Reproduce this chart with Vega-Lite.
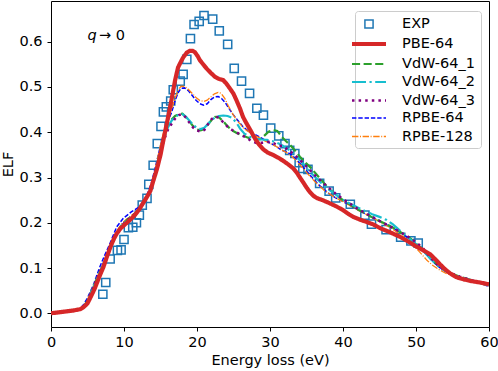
{
  "$schema": "https://vega.github.io/schema/vega-lite/v6.json",
  "width": 438,
  "height": 326,
  "autosize": {"type": "none"},
  "padding": {"left": 51, "top": 1, "right": 9, "bottom": 44},
  "background": "white",
  "datasets": {
    "exp": [
      {"series":"EXP","E":7.1,"ELF":0.042},{"series":"EXP","E":7.5,"ELF":0.068},{"series":"EXP","E":8.1,"ELF":0.12},
      {"series":"EXP","E":9.1,"ELF":0.139},{"series":"EXP","E":9.6,"ELF":0.14},{"series":"EXP","E":10.0,"ELF":0.163},
      {"series":"EXP","E":10.6,"ELF":0.189},{"series":"EXP","E":11.2,"ELF":0.19},{"series":"EXP","E":11.7,"ELF":0.2},
      {"series":"EXP","E":12.1,"ELF":0.217},{"series":"EXP","E":12.5,"ELF":0.239},{"series":"EXP","E":13.15,"ELF":0.254},
      {"series":"EXP","E":13.4,"ELF":0.285},{"series":"EXP","E":14.0,"ELF":0.327},{"series":"EXP","E":14.56,"ELF":0.375},
      {"series":"EXP","E":15.07,"ELF":0.413},{"series":"EXP","E":15.4,"ELF":0.445},{"series":"EXP","E":15.8,"ELF":0.456},
      {"series":"EXP","E":16.4,"ELF":0.469},{"series":"EXP","E":16.75,"ELF":0.494},{"series":"EXP","E":17.7,"ELF":0.513},
      {"series":"EXP","E":18.1,"ELF":0.528},{"series":"EXP","E":18.6,"ELF":0.561},{"series":"EXP","E":19.1,"ELF":0.607},
      {"series":"EXP","E":19.6,"ELF":0.638},{"series":"EXP","E":20.3,"ELF":0.645},{"series":"EXP","E":20.96,"ELF":0.658},
      {"series":"EXP","E":22.15,"ELF":0.65},{"series":"EXP","E":23.05,"ELF":0.624},{"series":"EXP","E":24.2,"ELF":0.594},
      {"series":"EXP","E":25.1,"ELF":0.541},{"series":"EXP","E":26.1,"ELF":0.513},{"series":"EXP","E":27.2,"ELF":0.486},
      {"series":"EXP","E":28.2,"ELF":0.453},{"series":"EXP","E":29.1,"ELF":0.438},{"series":"EXP","E":30.1,"ELF":0.409},
      {"series":"EXP","E":31.2,"ELF":0.392},{"series":"EXP","E":32.05,"ELF":0.375},{"series":"EXP","E":32.7,"ELF":0.36},
      {"series":"EXP","E":33.4,"ELF":0.353},{"series":"EXP","E":34.0,"ELF":0.333},{"series":"EXP","E":34.5,"ELF":0.32},
      {"series":"EXP","E":35.2,"ELF":0.318},{"series":"EXP","E":36.8,"ELF":0.287},{"series":"EXP","E":38.1,"ELF":0.27},
      {"series":"EXP","E":39.0,"ELF":0.255},{"series":"EXP","E":41.0,"ELF":0.241},{"series":"EXP","E":43.0,"ELF":0.217},
      {"series":"EXP","E":43.9,"ELF":0.197},{"series":"EXP","E":45.9,"ELF":0.185},{"series":"EXP","E":47.9,"ELF":0.168},
      {"series":"EXP","E":49.3,"ELF":0.16},{"series":"EXP","E":50.3,"ELF":0.155}
    ],
    "note": [
      {"E": 5.0, "ELF": 0.613, "part": "q", "style": "italic"},
      {"E": 5.0, "ELF": 0.613, "part": "→ 0", "style": "normal"}
    ],
    "curves": [
      {"series":"PBE-64","E":0,"ELF":0.0},{"series":"PBE-64","E":1,"ELF":0.002},{"series":"PBE-64","E":2,"ELF":0.004},
      {"series":"PBE-64","E":3,"ELF":0.006},{"series":"PBE-64","E":4,"ELF":0.009},{"series":"PBE-64","E":4.5,"ELF":0.014},
      {"series":"PBE-64","E":5.0,"ELF":0.022},{"series":"PBE-64","E":5.5,"ELF":0.038},{"series":"PBE-64","E":6.0,"ELF":0.055},
      {"series":"PBE-64","E":6.6,"ELF":0.08},{"series":"PBE-64","E":7.2,"ELF":0.103},{"series":"PBE-64","E":7.7,"ELF":0.127},
      {"series":"PBE-64","E":8.2,"ELF":0.149},{"series":"PBE-64","E":8.6,"ELF":0.164},{"series":"PBE-64","E":9.0,"ELF":0.176},
      {"series":"PBE-64","E":9.5,"ELF":0.187},{"series":"PBE-64","E":10.1,"ELF":0.196},{"series":"PBE-64","E":10.8,"ELF":0.206},
      {"series":"PBE-64","E":11.5,"ELF":0.217},{"series":"PBE-64","E":12.1,"ELF":0.23},{"series":"PBE-64","E":12.6,"ELF":0.243},
      {"series":"PBE-64","E":13.1,"ELF":0.256},{"series":"PBE-64","E":13.6,"ELF":0.27},{"series":"PBE-64","E":14.0,"ELF":0.292},
      {"series":"PBE-64","E":14.5,"ELF":0.318},{"series":"PBE-64","E":15.0,"ELF":0.35},{"series":"PBE-64","E":15.4,"ELF":0.383},
      {"series":"PBE-64","E":16.0,"ELF":0.43},{"series":"PBE-64","E":16.5,"ELF":0.471},{"series":"PBE-64","E":17.0,"ELF":0.515},
      {"series":"PBE-64","E":17.4,"ELF":0.543},{"series":"PBE-64","E":17.8,"ELF":0.556},{"series":"PBE-64","E":18.1,"ELF":0.565},
      {"series":"PBE-64","E":18.6,"ELF":0.576},{"series":"PBE-64","E":19.0,"ELF":0.58},{"series":"PBE-64","E":19.4,"ELF":0.58},
      {"series":"PBE-64","E":19.7,"ELF":0.577},{"series":"PBE-64","E":20.1,"ELF":0.568},{"series":"PBE-64","E":20.4,"ELF":0.559},
      {"series":"PBE-64","E":20.9,"ELF":0.549},{"series":"PBE-64","E":21.3,"ELF":0.541},{"series":"PBE-64","E":21.9,"ELF":0.531},
      {"series":"PBE-64","E":22.5,"ELF":0.522},{"series":"PBE-64","E":23.0,"ELF":0.518},{"series":"PBE-64","E":23.6,"ELF":0.515},
      {"series":"PBE-64","E":24.0,"ELF":0.508},{"series":"PBE-64","E":24.5,"ELF":0.497},{"series":"PBE-64","E":25.0,"ELF":0.485},
      {"series":"PBE-64","E":25.4,"ELF":0.471},{"series":"PBE-64","E":25.9,"ELF":0.452},{"series":"PBE-64","E":26.3,"ELF":0.434},
      {"series":"PBE-64","E":26.8,"ELF":0.419},{"series":"PBE-64","E":27.3,"ELF":0.405},{"series":"PBE-64","E":27.8,"ELF":0.39},
      {"series":"PBE-64","E":28.4,"ELF":0.375},{"series":"PBE-64","E":29.1,"ELF":0.362},{"series":"PBE-64","E":29.7,"ELF":0.355},
      {"series":"PBE-64","E":30.4,"ELF":0.35},{"series":"PBE-64","E":31.1,"ELF":0.344},{"series":"PBE-64","E":31.8,"ELF":0.337},
      {"series":"PBE-64","E":32.5,"ELF":0.329},{"series":"PBE-64","E":33.2,"ELF":0.32},{"series":"PBE-64","E":33.7,"ELF":0.31},
      {"series":"PBE-64","E":34.1,"ELF":0.3},{"series":"PBE-64","E":34.6,"ELF":0.288},{"series":"PBE-64","E":35.0,"ELF":0.278},
      {"series":"PBE-64","E":35.5,"ELF":0.267},{"series":"PBE-64","E":36.0,"ELF":0.259},{"series":"PBE-64","E":36.5,"ELF":0.254},
      {"series":"PBE-64","E":37.2,"ELF":0.25},{"series":"PBE-64","E":38.2,"ELF":0.243},{"series":"PBE-64","E":39.1,"ELF":0.236},
      {"series":"PBE-64","E":40.0,"ELF":0.228},{"series":"PBE-64","E":40.7,"ELF":0.22},{"series":"PBE-64","E":41.4,"ELF":0.213},
      {"series":"PBE-64","E":42.3,"ELF":0.207},{"series":"PBE-64","E":43.2,"ELF":0.202},{"series":"PBE-64","E":44.2,"ELF":0.196},
      {"series":"PBE-64","E":45.1,"ELF":0.188},{"series":"PBE-64","E":46.3,"ELF":0.18},{"series":"PBE-64","E":47.8,"ELF":0.169},
      {"series":"PBE-64","E":49.0,"ELF":0.158},{"series":"PBE-64","E":50.1,"ELF":0.147},{"series":"PBE-64","E":50.9,"ELF":0.14},
      {"series":"PBE-64","E":51.9,"ELF":0.131},{"series":"PBE-64","E":52.6,"ELF":0.12},{"series":"PBE-64","E":53.3,"ELF":0.108},
      {"series":"PBE-64","E":54.0,"ELF":0.097},{"series":"PBE-64","E":54.7,"ELF":0.088},{"series":"PBE-64","E":55.5,"ELF":0.08},
      {"series":"PBE-64","E":56.5,"ELF":0.075},{"series":"PBE-64","E":57.6,"ELF":0.071},{"series":"PBE-64","E":58.8,"ELF":0.068},
      {"series":"PBE-64","E":60.0,"ELF":0.064},

      {"series":"RPBE-64","E":0,"ELF":0.0},{"series":"RPBE-64","E":2,"ELF":0.004},{"series":"RPBE-64","E":4,"ELF":0.01},
      {"series":"RPBE-64","E":4.5,"ELF":0.02},{"series":"RPBE-64","E":5.0,"ELF":0.034},{"series":"RPBE-64","E":5.8,"ELF":0.062},
      {"series":"RPBE-64","E":6.7,"ELF":0.103},{"series":"RPBE-64","E":7.4,"ELF":0.13},{"series":"RPBE-64","E":8.1,"ELF":0.155},
      {"series":"RPBE-64","E":8.6,"ELF":0.175},{"series":"RPBE-64","E":9.0,"ELF":0.191},{"series":"RPBE-64","E":9.9,"ELF":0.21},
      {"series":"RPBE-64","E":11.0,"ELF":0.224},{"series":"RPBE-64","E":12.0,"ELF":0.234},{"series":"RPBE-64","E":12.6,"ELF":0.246},
      {"series":"RPBE-64","E":13.2,"ELF":0.263},{"series":"RPBE-64","E":13.8,"ELF":0.29},{"series":"RPBE-64","E":14.4,"ELF":0.33},
      {"series":"RPBE-64","E":15.0,"ELF":0.37},{"series":"RPBE-64","E":15.6,"ELF":0.405},{"series":"RPBE-64","E":16.1,"ELF":0.428},
      {"series":"RPBE-64","E":16.5,"ELF":0.443},{"series":"RPBE-64","E":17.0,"ELF":0.47},{"series":"RPBE-64","E":17.4,"ELF":0.487},
      {"series":"RPBE-64","E":17.8,"ELF":0.497},{"series":"RPBE-64","E":18.3,"ELF":0.498},{"series":"RPBE-64","E":18.8,"ELF":0.492},
      {"series":"RPBE-64","E":19.4,"ELF":0.48},{"series":"RPBE-64","E":19.9,"ELF":0.47},{"series":"RPBE-64","E":20.4,"ELF":0.463},
      {"series":"RPBE-64","E":20.9,"ELF":0.46},{"series":"RPBE-64","E":21.4,"ELF":0.463},{"series":"RPBE-64","E":21.9,"ELF":0.472},
      {"series":"RPBE-64","E":22.4,"ELF":0.478},{"series":"RPBE-64","E":22.9,"ELF":0.479},{"series":"RPBE-64","E":23.4,"ELF":0.474},
      {"series":"RPBE-64","E":23.9,"ELF":0.465},{"series":"RPBE-64","E":24.4,"ELF":0.452},{"series":"RPBE-64","E":24.9,"ELF":0.44},
      {"series":"RPBE-64","E":25.4,"ELF":0.43},{"series":"RPBE-64","E":25.9,"ELF":0.42},{"series":"RPBE-64","E":26.3,"ELF":0.412},
      {"series":"RPBE-64","E":27.0,"ELF":0.403},{"series":"RPBE-64","E":27.7,"ELF":0.397},{"series":"RPBE-64","E":28.5,"ELF":0.39},
      {"series":"RPBE-64","E":29.3,"ELF":0.383},{"series":"RPBE-64","E":30.0,"ELF":0.376},{"series":"RPBE-64","E":30.5,"ELF":0.372},
      {"series":"RPBE-64","E":31.1,"ELF":0.366},{"series":"RPBE-64","E":31.6,"ELF":0.36},{"series":"RPBE-64","E":32.2,"ELF":0.357},
      {"series":"RPBE-64","E":32.7,"ELF":0.353},{"series":"RPBE-64","E":33.4,"ELF":0.343},{"series":"RPBE-64","E":34.1,"ELF":0.331},
      {"series":"RPBE-64","E":34.8,"ELF":0.318},{"series":"RPBE-64","E":35.5,"ELF":0.305},{"series":"RPBE-64","E":36.2,"ELF":0.292},
      {"series":"RPBE-64","E":36.8,"ELF":0.282},{"series":"RPBE-64","E":37.5,"ELF":0.272},{"series":"RPBE-64","E":38.2,"ELF":0.263},
      {"series":"RPBE-64","E":39.0,"ELF":0.255},{"series":"RPBE-64","E":40.0,"ELF":0.247},{"series":"RPBE-64","E":41.0,"ELF":0.238},
      {"series":"RPBE-64","E":42.0,"ELF":0.229},{"series":"RPBE-64","E":43.0,"ELF":0.22},{"series":"RPBE-64","E":44.0,"ELF":0.212},
      {"series":"RPBE-64","E":45.0,"ELF":0.204},{"series":"RPBE-64","E":46.0,"ELF":0.196},{"series":"RPBE-64","E":47.0,"ELF":0.187},
      {"series":"RPBE-64","E":48.0,"ELF":0.177},{"series":"RPBE-64","E":49.0,"ELF":0.166},{"series":"RPBE-64","E":49.8,"ELF":0.156},
      {"series":"RPBE-64","E":50.5,"ELF":0.146},{"series":"RPBE-64","E":51.2,"ELF":0.134},{"series":"RPBE-64","E":52.0,"ELF":0.12},
      {"series":"RPBE-64","E":52.8,"ELF":0.107},{"series":"RPBE-64","E":53.5,"ELF":0.098},{"series":"RPBE-64","E":54.2,"ELF":0.091},
      {"series":"RPBE-64","E":55.0,"ELF":0.085},{"series":"RPBE-64","E":56.0,"ELF":0.079},{"series":"RPBE-64","E":57.0,"ELF":0.074},
      {"series":"RPBE-64","E":58.0,"ELF":0.07},{"series":"RPBE-64","E":59.0,"ELF":0.065},{"series":"RPBE-64","E":60.0,"ELF":0.059},

      {"series":"RPBE-128","E":0,"ELF":0.0},{"series":"RPBE-128","E":2,"ELF":0.004},{"series":"RPBE-128","E":4,"ELF":0.009},
      {"series":"RPBE-128","E":4.5,"ELF":0.016},{"series":"RPBE-128","E":5.0,"ELF":0.03},{"series":"RPBE-128","E":5.8,"ELF":0.06},
      {"series":"RPBE-128","E":6.5,"ELF":0.087},{"series":"RPBE-128","E":7.2,"ELF":0.112},{"series":"RPBE-128","E":7.9,"ELF":0.138},
      {"series":"RPBE-128","E":8.5,"ELF":0.162},{"series":"RPBE-128","E":9.1,"ELF":0.184},{"series":"RPBE-128","E":9.7,"ELF":0.198},
      {"series":"RPBE-128","E":10.4,"ELF":0.209},{"series":"RPBE-128","E":11.0,"ELF":0.216},{"series":"RPBE-128","E":11.7,"ELF":0.225},
      {"series":"RPBE-128","E":12.3,"ELF":0.236},{"series":"RPBE-128","E":12.9,"ELF":0.252},{"series":"RPBE-128","E":13.5,"ELF":0.272},
      {"series":"RPBE-128","E":14.0,"ELF":0.298},{"series":"RPBE-128","E":14.5,"ELF":0.335},{"series":"RPBE-128","E":15.0,"ELF":0.372},
      {"series":"RPBE-128","E":15.5,"ELF":0.405},{"series":"RPBE-128","E":16.0,"ELF":0.43},{"series":"RPBE-128","E":16.5,"ELF":0.45},
      {"series":"RPBE-128","E":17.0,"ELF":0.475},{"series":"RPBE-128","E":17.4,"ELF":0.492},{"series":"RPBE-128","E":17.8,"ELF":0.502},
      {"series":"RPBE-128","E":18.3,"ELF":0.501},{"series":"RPBE-128","E":18.8,"ELF":0.495},{"series":"RPBE-128","E":19.4,"ELF":0.485},
      {"series":"RPBE-128","E":19.9,"ELF":0.476},{"series":"RPBE-128","E":20.4,"ELF":0.47},{"series":"RPBE-128","E":20.9,"ELF":0.468},
      {"series":"RPBE-128","E":21.4,"ELF":0.471},{"series":"RPBE-128","E":21.9,"ELF":0.478},{"series":"RPBE-128","E":22.4,"ELF":0.485},
      {"series":"RPBE-128","E":22.9,"ELF":0.488},{"series":"RPBE-128","E":23.3,"ELF":0.486},{"series":"RPBE-128","E":23.8,"ELF":0.475},
      {"series":"RPBE-128","E":24.3,"ELF":0.458},{"series":"RPBE-128","E":24.8,"ELF":0.443},{"series":"RPBE-128","E":25.3,"ELF":0.43},
      {"series":"RPBE-128","E":25.8,"ELF":0.42},{"series":"RPBE-128","E":26.3,"ELF":0.411},{"series":"RPBE-128","E":26.8,"ELF":0.404},
      {"series":"RPBE-128","E":27.5,"ELF":0.397},{"series":"RPBE-128","E":28.5,"ELF":0.388},{"series":"RPBE-128","E":29.5,"ELF":0.379},
      {"series":"RPBE-128","E":30.5,"ELF":0.372},{"series":"RPBE-128","E":31.5,"ELF":0.362},{"series":"RPBE-128","E":32.5,"ELF":0.353},
      {"series":"RPBE-128","E":33.5,"ELF":0.339},{"series":"RPBE-128","E":34.5,"ELF":0.321},{"series":"RPBE-128","E":35.5,"ELF":0.302},
      {"series":"RPBE-128","E":36.5,"ELF":0.285},{"series":"RPBE-128","E":37.5,"ELF":0.271},{"series":"RPBE-128","E":38.5,"ELF":0.26},
      {"series":"RPBE-128","E":39.5,"ELF":0.251},{"series":"RPBE-128","E":40.5,"ELF":0.242},{"series":"RPBE-128","E":41.5,"ELF":0.233},
      {"series":"RPBE-128","E":42.5,"ELF":0.224},{"series":"RPBE-128","E":43.5,"ELF":0.216},{"series":"RPBE-128","E":44.5,"ELF":0.207},
      {"series":"RPBE-128","E":45.5,"ELF":0.198},{"series":"RPBE-128","E":46.5,"ELF":0.189},{"series":"RPBE-128","E":47.5,"ELF":0.178},
      {"series":"RPBE-128","E":48.5,"ELF":0.166},{"series":"RPBE-128","E":49.3,"ELF":0.156},{"series":"RPBE-128","E":50.0,"ELF":0.144},
      {"series":"RPBE-128","E":50.8,"ELF":0.13},{"series":"RPBE-128","E":51.5,"ELF":0.117},{"series":"RPBE-128","E":52.2,"ELF":0.107},
      {"series":"RPBE-128","E":53.0,"ELF":0.098},{"series":"RPBE-128","E":54.0,"ELF":0.089},{"series":"RPBE-128","E":55.0,"ELF":0.083},
      {"series":"RPBE-128","E":56.0,"ELF":0.078},{"series":"RPBE-128","E":58.0,"ELF":0.069},{"series":"RPBE-128","E":60.0,"ELF":0.06},

      {"series":"VdW-64_1","E":0,"ELF":0.0},{"series":"VdW-64_1","E":2,"ELF":0.004},{"series":"VdW-64_1","E":4,"ELF":0.009},
      {"series":"VdW-64_1","E":4.5,"ELF":0.015},{"series":"VdW-64_1","E":5.0,"ELF":0.028},{"series":"VdW-64_1","E":5.8,"ELF":0.058},
      {"series":"VdW-64_1","E":6.5,"ELF":0.085},{"series":"VdW-64_1","E":7.2,"ELF":0.11},{"series":"VdW-64_1","E":7.9,"ELF":0.136},
      {"series":"VdW-64_1","E":8.5,"ELF":0.16},{"series":"VdW-64_1","E":9.1,"ELF":0.18},{"series":"VdW-64_1","E":9.7,"ELF":0.195},
      {"series":"VdW-64_1","E":10.4,"ELF":0.206},{"series":"VdW-64_1","E":11.0,"ELF":0.214},{"series":"VdW-64_1","E":11.7,"ELF":0.223},
      {"series":"VdW-64_1","E":12.3,"ELF":0.235},{"series":"VdW-64_1","E":12.9,"ELF":0.25},{"series":"VdW-64_1","E":13.5,"ELF":0.268},
      {"series":"VdW-64_1","E":14.0,"ELF":0.29},{"series":"VdW-64_1","E":14.5,"ELF":0.325},{"series":"VdW-64_1","E":15.0,"ELF":0.36},
      {"series":"VdW-64_1","E":15.5,"ELF":0.39},{"series":"VdW-64_1","E":16.0,"ELF":0.413},{"series":"VdW-64_1","E":16.5,"ELF":0.428},
      {"series":"VdW-64_1","E":17.0,"ELF":0.436},{"series":"VdW-64_1","E":17.5,"ELF":0.44},{"series":"VdW-64_1","E":18.0,"ELF":0.441},
      {"series":"VdW-64_1","E":18.5,"ELF":0.433},{"series":"VdW-64_1","E":19.0,"ELF":0.423},{"series":"VdW-64_1","E":19.5,"ELF":0.413},
      {"series":"VdW-64_1","E":20.0,"ELF":0.406},{"series":"VdW-64_1","E":20.5,"ELF":0.404},{"series":"VdW-64_1","E":21.0,"ELF":0.407},
      {"series":"VdW-64_1","E":21.5,"ELF":0.417},{"series":"VdW-64_1","E":22.0,"ELF":0.427},{"series":"VdW-64_1","E":22.5,"ELF":0.434},
      {"series":"VdW-64_1","E":23.0,"ELF":0.433},{"series":"VdW-64_1","E":23.6,"ELF":0.424},{"series":"VdW-64_1","E":24.2,"ELF":0.413},
      {"series":"VdW-64_1","E":24.8,"ELF":0.404},{"series":"VdW-64_1","E":25.5,"ELF":0.398},{"series":"VdW-64_1","E":26.2,"ELF":0.393},
      {"series":"VdW-64_1","E":27.0,"ELF":0.388},{"series":"VdW-64_1","E":27.8,"ELF":0.385},{"series":"VdW-64_1","E":28.6,"ELF":0.384},
      {"series":"VdW-64_1","E":29.2,"ELF":0.392},{"series":"VdW-64_1","E":29.8,"ELF":0.401},{"series":"VdW-64_1","E":30.4,"ELF":0.405},
      {"series":"VdW-64_1","E":31.0,"ELF":0.403},{"series":"VdW-64_1","E":31.6,"ELF":0.39},{"series":"VdW-64_1","E":32.2,"ELF":0.38},
      {"series":"VdW-64_1","E":32.7,"ELF":0.373},{"series":"VdW-64_1","E":33.4,"ELF":0.36},{"series":"VdW-64_1","E":34.1,"ELF":0.346},
      {"series":"VdW-64_1","E":34.8,"ELF":0.334},{"series":"VdW-64_1","E":35.5,"ELF":0.323},{"series":"VdW-64_1","E":36.2,"ELF":0.31},
      {"series":"VdW-64_1","E":37.0,"ELF":0.295},{"series":"VdW-64_1","E":38.0,"ELF":0.276},{"series":"VdW-64_1","E":39.0,"ELF":0.262},
      {"series":"VdW-64_1","E":40.0,"ELF":0.25},{"series":"VdW-64_1","E":41.0,"ELF":0.24},{"series":"VdW-64_1","E":42.0,"ELF":0.23},
      {"series":"VdW-64_1","E":43.0,"ELF":0.221},{"series":"VdW-64_1","E":44.0,"ELF":0.212},{"series":"VdW-64_1","E":45.0,"ELF":0.204},
      {"series":"VdW-64_1","E":46.0,"ELF":0.196},{"series":"VdW-64_1","E":47.0,"ELF":0.188},{"series":"VdW-64_1","E":48.0,"ELF":0.178},
      {"series":"VdW-64_1","E":49.0,"ELF":0.168},{"series":"VdW-64_1","E":50.0,"ELF":0.155},{"series":"VdW-64_1","E":51.0,"ELF":0.14},
      {"series":"VdW-64_1","E":52.0,"ELF":0.122},{"series":"VdW-64_1","E":53.0,"ELF":0.106},{"series":"VdW-64_1","E":54.0,"ELF":0.095},
      {"series":"VdW-64_1","E":55.0,"ELF":0.087},{"series":"VdW-64_1","E":56.0,"ELF":0.081},{"series":"VdW-64_1","E":57.0,"ELF":0.076},
      {"series":"VdW-64_1","E":58.0,"ELF":0.071},{"series":"VdW-64_1","E":59.0,"ELF":0.066},{"series":"VdW-64_1","E":60.0,"ELF":0.062},

      {"series":"VdW-64_2","E":0,"ELF":0.0},{"series":"VdW-64_2","E":2,"ELF":0.004},{"series":"VdW-64_2","E":4,"ELF":0.009},
      {"series":"VdW-64_2","E":4.5,"ELF":0.015},{"series":"VdW-64_2","E":5.0,"ELF":0.027},{"series":"VdW-64_2","E":5.8,"ELF":0.057},
      {"series":"VdW-64_2","E":6.5,"ELF":0.084},{"series":"VdW-64_2","E":7.2,"ELF":0.109},{"series":"VdW-64_2","E":7.9,"ELF":0.135},
      {"series":"VdW-64_2","E":8.5,"ELF":0.158},{"series":"VdW-64_2","E":9.1,"ELF":0.178},{"series":"VdW-64_2","E":9.7,"ELF":0.194},
      {"series":"VdW-64_2","E":10.4,"ELF":0.205},{"series":"VdW-64_2","E":11.0,"ELF":0.213},{"series":"VdW-64_2","E":11.7,"ELF":0.222},
      {"series":"VdW-64_2","E":12.3,"ELF":0.234},{"series":"VdW-64_2","E":12.9,"ELF":0.249},{"series":"VdW-64_2","E":13.5,"ELF":0.267},
      {"series":"VdW-64_2","E":14.0,"ELF":0.289},{"series":"VdW-64_2","E":14.5,"ELF":0.324},{"series":"VdW-64_2","E":15.0,"ELF":0.358},
      {"series":"VdW-64_2","E":15.5,"ELF":0.388},{"series":"VdW-64_2","E":16.0,"ELF":0.41},{"series":"VdW-64_2","E":16.5,"ELF":0.425},
      {"series":"VdW-64_2","E":17.0,"ELF":0.434},{"series":"VdW-64_2","E":17.5,"ELF":0.439},{"series":"VdW-64_2","E":18.0,"ELF":0.44},
      {"series":"VdW-64_2","E":18.5,"ELF":0.434},{"series":"VdW-64_2","E":19.0,"ELF":0.425},{"series":"VdW-64_2","E":19.5,"ELF":0.416},
      {"series":"VdW-64_2","E":20.0,"ELF":0.409},{"series":"VdW-64_2","E":20.5,"ELF":0.407},{"series":"VdW-64_2","E":21.0,"ELF":0.41},
      {"series":"VdW-64_2","E":21.5,"ELF":0.418},{"series":"VdW-64_2","E":22.0,"ELF":0.427},{"series":"VdW-64_2","E":22.5,"ELF":0.433},
      {"series":"VdW-64_2","E":23.0,"ELF":0.436},{"series":"VdW-64_2","E":23.6,"ELF":0.437},{"series":"VdW-64_2","E":24.2,"ELF":0.436},
      {"series":"VdW-64_2","E":24.8,"ELF":0.432},{"series":"VdW-64_2","E":25.4,"ELF":0.421},{"series":"VdW-64_2","E":25.9,"ELF":0.408},
      {"series":"VdW-64_2","E":26.5,"ELF":0.397},{"series":"VdW-64_2","E":27.2,"ELF":0.39},{"series":"VdW-64_2","E":28.0,"ELF":0.386},
      {"series":"VdW-64_2","E":28.8,"ELF":0.384},{"series":"VdW-64_2","E":29.6,"ELF":0.383},{"series":"VdW-64_2","E":30.4,"ELF":0.38},
      {"series":"VdW-64_2","E":31.2,"ELF":0.375},{"series":"VdW-64_2","E":32.0,"ELF":0.368},{"series":"VdW-64_2","E":32.7,"ELF":0.36},
      {"series":"VdW-64_2","E":33.4,"ELF":0.35},{"series":"VdW-64_2","E":34.1,"ELF":0.338},{"series":"VdW-64_2","E":35.0,"ELF":0.322},
      {"series":"VdW-64_2","E":36.0,"ELF":0.304},{"series":"VdW-64_2","E":37.0,"ELF":0.288},{"series":"VdW-64_2","E":38.0,"ELF":0.274},
      {"series":"VdW-64_2","E":39.0,"ELF":0.262},{"series":"VdW-64_2","E":40.0,"ELF":0.251},{"series":"VdW-64_2","E":41.0,"ELF":0.242},
      {"series":"VdW-64_2","E":42.0,"ELF":0.234},{"series":"VdW-64_2","E":43.0,"ELF":0.226},{"series":"VdW-64_2","E":44.0,"ELF":0.219},
      {"series":"VdW-64_2","E":45.0,"ELF":0.213},{"series":"VdW-64_2","E":46.0,"ELF":0.206},{"series":"VdW-64_2","E":46.8,"ELF":0.197},
      {"series":"VdW-64_2","E":47.5,"ELF":0.187},{"series":"VdW-64_2","E":48.3,"ELF":0.176},{"series":"VdW-64_2","E":49.0,"ELF":0.166},
      {"series":"VdW-64_2","E":50.0,"ELF":0.153},{"series":"VdW-64_2","E":51.0,"ELF":0.138},{"series":"VdW-64_2","E":52.0,"ELF":0.12},
      {"series":"VdW-64_2","E":53.0,"ELF":0.105},{"series":"VdW-64_2","E":54.0,"ELF":0.094},{"series":"VdW-64_2","E":55.0,"ELF":0.086},
      {"series":"VdW-64_2","E":56.0,"ELF":0.08},{"series":"VdW-64_2","E":58.0,"ELF":0.071},{"series":"VdW-64_2","E":60.0,"ELF":0.062},

      {"series":"VdW-64_3","E":0,"ELF":0.0},{"series":"VdW-64_3","E":2,"ELF":0.004},{"series":"VdW-64_3","E":4,"ELF":0.009},
      {"series":"VdW-64_3","E":4.5,"ELF":0.015},{"series":"VdW-64_3","E":5.0,"ELF":0.027},{"series":"VdW-64_3","E":5.8,"ELF":0.057},
      {"series":"VdW-64_3","E":6.5,"ELF":0.084},{"series":"VdW-64_3","E":7.2,"ELF":0.109},{"series":"VdW-64_3","E":7.9,"ELF":0.135},
      {"series":"VdW-64_3","E":8.5,"ELF":0.158},{"series":"VdW-64_3","E":9.1,"ELF":0.178},{"series":"VdW-64_3","E":9.7,"ELF":0.194},
      {"series":"VdW-64_3","E":10.4,"ELF":0.205},{"series":"VdW-64_3","E":11.0,"ELF":0.213},{"series":"VdW-64_3","E":11.7,"ELF":0.222},
      {"series":"VdW-64_3","E":12.3,"ELF":0.234},{"series":"VdW-64_3","E":12.9,"ELF":0.249},{"series":"VdW-64_3","E":13.5,"ELF":0.267},
      {"series":"VdW-64_3","E":14.0,"ELF":0.288},{"series":"VdW-64_3","E":14.5,"ELF":0.322},{"series":"VdW-64_3","E":15.0,"ELF":0.355},
      {"series":"VdW-64_3","E":15.5,"ELF":0.384},{"series":"VdW-64_3","E":16.0,"ELF":0.405},{"series":"VdW-64_3","E":16.5,"ELF":0.418},
      {"series":"VdW-64_3","E":17.0,"ELF":0.43},{"series":"VdW-64_3","E":17.5,"ELF":0.438},{"series":"VdW-64_3","E":18.0,"ELF":0.44},
      {"series":"VdW-64_3","E":18.5,"ELF":0.432},{"series":"VdW-64_3","E":19.0,"ELF":0.42},{"series":"VdW-64_3","E":19.5,"ELF":0.41},
      {"series":"VdW-64_3","E":20.0,"ELF":0.404},{"series":"VdW-64_3","E":20.5,"ELF":0.401},{"series":"VdW-64_3","E":21.0,"ELF":0.405},
      {"series":"VdW-64_3","E":21.5,"ELF":0.418},{"series":"VdW-64_3","E":22.0,"ELF":0.429},{"series":"VdW-64_3","E":22.5,"ELF":0.435},
      {"series":"VdW-64_3","E":23.0,"ELF":0.432},{"series":"VdW-64_3","E":23.6,"ELF":0.422},{"series":"VdW-64_3","E":24.2,"ELF":0.412},
      {"series":"VdW-64_3","E":24.8,"ELF":0.405},{"series":"VdW-64_3","E":25.4,"ELF":0.4},{"series":"VdW-64_3","E":26.0,"ELF":0.394},
      {"series":"VdW-64_3","E":26.8,"ELF":0.388},{"series":"VdW-64_3","E":27.5,"ELF":0.38},{"series":"VdW-64_3","E":28.2,"ELF":0.376},
      {"series":"VdW-64_3","E":29.0,"ELF":0.377},{"series":"VdW-64_3","E":29.8,"ELF":0.379},{"series":"VdW-64_3","E":30.5,"ELF":0.376},
      {"series":"VdW-64_3","E":31.2,"ELF":0.37},{"series":"VdW-64_3","E":31.8,"ELF":0.37},{"series":"VdW-64_3","E":32.4,"ELF":0.362},
      {"series":"VdW-64_3","E":33.0,"ELF":0.355},{"series":"VdW-64_3","E":33.7,"ELF":0.345},{"series":"VdW-64_3","E":34.4,"ELF":0.334},
      {"series":"VdW-64_3","E":35.2,"ELF":0.321},{"series":"VdW-64_3","E":36.0,"ELF":0.307},{"series":"VdW-64_3","E":37.0,"ELF":0.292},
      {"series":"VdW-64_3","E":38.0,"ELF":0.278},{"series":"VdW-64_3","E":39.0,"ELF":0.264},{"series":"VdW-64_3","E":40.0,"ELF":0.252},
      {"series":"VdW-64_3","E":41.0,"ELF":0.242},{"series":"VdW-64_3","E":42.0,"ELF":0.231},{"series":"VdW-64_3","E":43.0,"ELF":0.222},
      {"series":"VdW-64_3","E":44.0,"ELF":0.213},{"series":"VdW-64_3","E":45.0,"ELF":0.204},{"series":"VdW-64_3","E":46.0,"ELF":0.196},
      {"series":"VdW-64_3","E":47.0,"ELF":0.187},{"series":"VdW-64_3","E":48.0,"ELF":0.178},{"series":"VdW-64_3","E":49.0,"ELF":0.168},
      {"series":"VdW-64_3","E":50.0,"ELF":0.157},{"series":"VdW-64_3","E":51.0,"ELF":0.143},{"series":"VdW-64_3","E":52.0,"ELF":0.123},
      {"series":"VdW-64_3","E":53.0,"ELF":0.106},{"series":"VdW-64_3","E":54.0,"ELF":0.094},{"series":"VdW-64_3","E":55.0,"ELF":0.087},
      {"series":"VdW-64_3","E":56.0,"ELF":0.081},{"series":"VdW-64_3","E":58.0,"ELF":0.071},{"series":"VdW-64_3","E":60.0,"ELF":0.063}
    ]
  },
  "encoding": {
    "x": {"field": "E", "type": "quantitative", "scale": {"domain": [0, 60], "nice": false, "zero": false},
      "axis": {"title": "Energy loss (eV)", "values": [0, 10, 20, 30, 40, 50, 60], "labelPadding": 4, "titlePadding": 5}},
    "y": {"field": "ELF", "type": "quantitative", "scale": {"domain": [-0.0303, 0.69], "nice": false, "zero": false},
      "axis": {"title": "ELF", "values": [0, 0.1, 0.2, 0.3, 0.4, 0.5, 0.6], "format": ".1f", "labelPadding": 5, "titlePadding": 3}}
  },
  "layer": [
    {
      "data": {"name": "exp"},
      "mark": {"type": "point", "filled": false, "size": 185, "strokeWidth": 1.5, "opacity": 1, "clip": true},
      "encoding": {
        "color": {"field": "series", "type": "nominal", "legend": {"title": null},
          "scale": {"domain": ["EXP","PBE-64","VdW-64_1","VdW-64_2","VdW-64_3","RPBE-64","RPBE-128"],
                    "range": ["#1f77b4","#d62728","#2ca02c","#17becf","#800080","#0000ff","#ff7f0e"]}},
        "shape": {"field": "series", "type": "nominal", "legend": {"title": null},
          "scale": {"domain": ["EXP","PBE-64","VdW-64_1","VdW-64_2","VdW-64_3","RPBE-64","RPBE-128"],
                    "range": ["M-0.6,-0.6H0.6V0.6H-0.6Z","M-2.5,0H2.5","M-2.5,0H2.5","M-2.5,0H2.5","M-2.5,0H2.5","M-2.5,0H2.5","M-2.5,0H2.5"]}}
      }
    },
    {
      "data": {"name": "curves"},
      "transform": [{"filter": "datum.series !== 'PBE-64'"}],
      "mark": {"type": "line", "clip": true},
      "encoding": {
        "color": {"field": "series", "type": "nominal", "legend": {"title": null}},
        "strokeDash": {"field": "series", "type": "nominal", "legend": {"title": null},
          "scale": {"domain": ["EXP","PBE-64","VdW-64_1","VdW-64_2","VdW-64_3","RPBE-64","RPBE-128"],
                    "range": [[1,0],[1,0],[8.1,3.5],[14,3.5,2.2,3.5],[2.5,4.1],[4.4,1.9],[6.4,1.6,1,1.6]]}},
        "strokeWidth": {"field": "series", "type": "nominal", "legend": {"title": null},
          "scale": {"type": "ordinal", "domain": ["EXP","PBE-64","VdW-64_1","VdW-64_2","VdW-64_3","RPBE-64","RPBE-128"],
                    "range": [1.5, 4.2, 2.2, 2.2, 2.5, 1.5, 1.3]}}
      }
    },
    {
      "data": {"name": "curves"},
      "transform": [{"filter": "datum.series === 'PBE-64'"}],
      "mark": {"type": "line", "clip": true},
      "encoding": {
        "color": {"field": "series", "type": "nominal", "legend": {"title": null}},
        "strokeDash": {"field": "series", "type": "nominal", "legend": {"title": null}},
        "strokeWidth": {"field": "series", "type": "nominal", "legend": {"title": null},
          "scale": {"type": "ordinal", "domain": ["EXP","PBE-64","VdW-64_1","VdW-64_2","VdW-64_3","RPBE-64","RPBE-128"],
                    "range": [1.5, 4.2, 2.2, 2.2, 2.5, 1.5, 1.3]}}
      }
    },
    {
      "data": {"name": "note"},
      "transform": [{"filter": "datum.style === 'italic'"}],
      "mark": {"type": "text", "fontStyle": "italic", "fontSize": 14.5, "align": "left", "baseline": "middle", "color": "#000"},
      "encoding": {"text": {"field": "part"}}
    },
    {
      "data": {"name": "note"},
      "transform": [{"filter": "datum.style === 'normal'"}],
      "mark": {"type": "text", "fontSize": 14.5, "align": "left", "baseline": "middle", "dx": 11.5, "color": "#000"},
      "encoding": {"text": {"field": "part"}}
    }
  ],
  "config": {
    "font": "DejaVu Sans",
    "view": {"stroke": "#000", "strokeWidth": 1},
    "axis": {
      "labelFont": "DejaVu Sans", "labelFontSize": 14.5, "labelColor": "#000",
      "titleFont": "DejaVu Sans", "titleFontSize": 14.5, "titleFontWeight": "normal", "titleColor": "#000",
      "tickColor": "#000", "tickSize": 4, "tickWidth": 1, "domain": false, "grid": false,
      "labelFlush": false, "labelOverlap": false
    },
    "legend": {
      "orient": "none", "legendX": 304, "legendY": 10,
      "labelFont": "DejaVu Sans", "labelFontSize": 14.5, "labelColor": "#000",
      "symbolSize": 185, "symbolFillColor": "transparent", "symbolOpacity": 1,
      "padding": 5, "rowPadding": 3, "labelOffset": 24,
      "strokeColor": "#cccccc", "fillColor": "white", "cornerRadius": 3
    }
  }
}
